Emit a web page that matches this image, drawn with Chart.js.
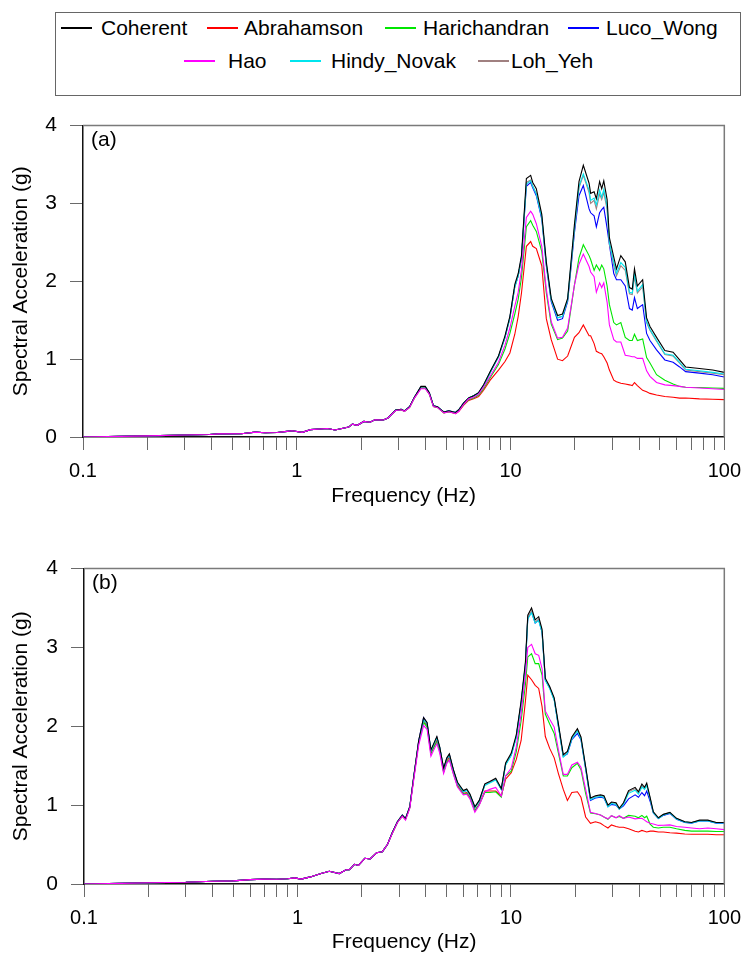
<!DOCTYPE html>
<html><head><meta charset="utf-8">
<script src="https://cdn.jsdelivr.net/npm/chart.js@4.4.1/dist/chart.umd.min.js"></script>
<style>
html,body{margin:0;padding:0;background:#fff;}
body{width:750px;height:953px;position:relative;overflow:hidden;font-family:"Liberation Sans",Arial,sans-serif;}
#legend{position:absolute;left:55px;top:12px;width:686px;height:84px;border:1px solid #666;box-sizing:border-box;}
.item{position:absolute;height:24px;}
.sw{position:absolute;left:0;top:11px;width:31px;height:2px;}
.tx{position:absolute;top:0;height:24px;line-height:24px;font-size:21px;color:#000;white-space:nowrap;}
canvas{position:absolute;left:0;}
</style>
</head>
<body>
<div id="legend"></div>
<canvas id="cA" width="750" height="410" style="top:100px"></canvas>
<canvas id="cB" width="750" height="410" style="top:543px"></canvas>
<script>
// ---------- data ----------
const seriesNames = ['Coherent','Abrahamson','Harichandran','Luco_Wong','Hao','Hindy_Novak','Loh_Yeh'];
const seriesColors = ['#000000','#ff0000','#00e600','#0000ff','#ff00ff','#00e5ee','#a08080'];

const xTickValues = [0.1,0.2,0.3,0.4,0.5,0.6,0.7,0.8,0.9,1,2,3,4,5,6,7,8,9,10,20,30,40,50,60,70,80,90,100];
const xMajorValues = [0.1,1,10,100];
const xTickLabels = ['0.1','1','10','100'];
const yTickValues = [0,1,2,3,4];

const freqA = [0.1,0.15,0.2,0.3,0.39,0.43,0.55,0.64,0.71,0.81,
0.9,0.95,1.06,1.16,1.39,1.51,1.75,1.82,1.92,2.06,
2.2,2.32,2.54,2.67,2.9,3.08,3.19,3.37,3.55,3.81,
3.99,4.17,4.36,4.55,4.88,5.15,5.53,5.73,6.04,6.37,
6.72,7.09,7.48,8.03,8.78,9.42,9.93,10.47,10.86,11.25,
11.86,12.42,12.7,13.2,14.0,14.7,15.5,16.6,17.5,18.5,
19.9,20.9,21.9,23.3,23.7,24.6,25.2,26.1,26.7,27.3,
28.3,29.0,30.4,31.3,32.8,34.4,36.0,37.1,38.0,39.2,
41.5,43.3,44.9,48.2,52.7,57.6,61.8,65.9,76.5,88.2,
100];

const coherentA = [0,0.008,0.015,0.025,0.033,0.04,0.042,0.062,0.055,0.058,
0.072,0.08,0.06,0.095,0.11,0.09,0.127,0.165,0.15,0.2,
0.19,0.22,0.218,0.245,0.345,0.355,0.335,0.39,0.51,0.65,
0.65,0.57,0.40,0.39,0.32,0.335,0.315,0.35,0.44,0.50,
0.53,0.57,0.67,0.84,1.04,1.30,1.55,1.96,2.10,2.33,
3.32,3.36,3.27,3.19,2.86,2.25,1.78,1.56,1.58,1.78,
2.73,3.28,3.49,3.26,3.13,3.15,3.06,3.28,3.19,3.29,
3.05,2.56,2.31,2.16,2.33,2.25,1.92,1.90,2.16,1.94,
2.02,1.53,1.42,1.28,1.11,1.09,0.99,0.90,0.88,0.86,
0.83];
const abrahamsonA = [0,0.008,0.015,0.025,0.033,0.04,0.042,0.062,0.055,0.058,
0.072,0.08,0.06,0.095,0.11,0.09,0.127,0.165,0.15,0.2,
0.19,0.22,0.218,0.245,0.34,0.35,0.33,0.38,0.50,0.63,
0.63,0.55,0.39,0.38,0.31,0.325,0.30,0.33,0.41,0.47,
0.49,0.52,0.60,0.73,0.86,0.97,1.08,1.32,1.55,1.85,
2.45,2.51,2.45,2.42,2.20,1.52,1.25,1.00,0.98,1.04,
1.28,1.34,1.44,1.30,1.30,1.20,1.10,1.08,1.07,1.03,
0.95,0.86,0.73,0.71,0.69,0.68,0.67,0.66,0.70,0.66,
0.60,0.58,0.56,0.54,0.52,0.51,0.50,0.50,0.49,0.485,
0.48];
const harichandranA = [0,0.008,0.015,0.025,0.033,0.04,0.042,0.062,0.055,0.058,
0.072,0.08,0.06,0.095,0.11,0.09,0.127,0.165,0.15,0.2,
0.19,0.22,0.218,0.245,0.34,0.35,0.33,0.38,0.50,0.63,
0.63,0.55,0.39,0.38,0.31,0.325,0.305,0.34,0.42,0.48,
0.50,0.54,0.62,0.76,0.93,1.13,1.33,1.58,1.77,2.05,
2.70,2.78,2.72,2.64,2.38,1.85,1.45,1.25,1.27,1.36,
1.95,2.30,2.47,2.33,2.28,2.14,2.21,2.14,2.21,2.16,
1.94,1.70,1.47,1.44,1.47,1.28,1.24,1.24,1.32,1.24,
1.26,1.02,0.95,0.80,0.73,0.68,0.65,0.64,0.635,0.63,
0.625];
const lucoWongA = [0,0.008,0.015,0.025,0.033,0.04,0.042,0.062,0.055,0.058,
0.072,0.08,0.06,0.095,0.11,0.09,0.127,0.165,0.15,0.2,
0.19,0.22,0.218,0.245,0.345,0.355,0.335,0.39,0.51,0.645,
0.645,0.565,0.40,0.39,0.32,0.335,0.315,0.35,0.44,0.50,
0.53,0.565,0.66,0.83,1.03,1.28,1.53,1.93,2.07,2.30,
3.22,3.27,3.20,3.10,2.80,2.20,1.74,1.50,1.52,1.74,
2.62,3.10,3.23,2.93,2.88,2.84,2.70,2.88,2.92,2.95,
2.68,2.47,2.10,2.02,2.02,1.94,1.65,1.63,1.79,1.65,
1.70,1.33,1.24,1.12,0.99,0.96,0.90,0.84,0.82,0.80,
0.77];
const haoA = [0,0.008,0.015,0.025,0.033,0.04,0.042,0.062,0.055,0.058,
0.072,0.08,0.06,0.095,0.11,0.09,0.127,0.165,0.15,0.2,
0.19,0.22,0.218,0.245,0.34,0.35,0.33,0.38,0.50,0.62,
0.62,0.55,0.39,0.38,0.31,0.325,0.30,0.33,0.42,0.49,
0.51,0.55,0.64,0.78,0.96,1.18,1.40,1.68,1.86,2.15,
2.82,2.90,2.86,2.74,2.45,1.90,1.48,1.27,1.28,1.40,
1.95,2.22,2.35,2.19,2.12,2.06,1.86,1.98,1.92,1.98,
1.73,1.44,1.25,1.22,1.22,1.05,1.04,1.03,1.03,1.01,
1.01,0.85,0.78,0.70,0.67,0.66,0.65,0.64,0.63,0.62,
0.61];
const hindyNovakA = [0,0.008,0.015,0.025,0.033,0.04,0.042,0.062,0.055,0.058,
0.072,0.08,0.06,0.095,0.11,0.09,0.127,0.165,0.15,0.2,
0.19,0.22,0.218,0.245,0.345,0.355,0.335,0.39,0.51,0.645,
0.645,0.565,0.40,0.39,0.32,0.335,0.315,0.35,0.44,0.50,
0.53,0.565,0.66,0.83,1.03,1.28,1.53,1.93,2.07,2.30,
3.25,3.29,3.22,3.12,2.82,2.22,1.76,1.53,1.55,1.76,
2.68,3.22,3.38,3.17,3.04,3.07,2.98,3.17,3.08,3.18,
2.96,2.50,2.24,2.10,2.24,2.18,1.86,1.85,2.10,1.87,
1.96,1.48,1.38,1.24,1.07,1.05,0.96,0.87,0.85,0.83,
0.81];
const lohYehA = [0,0.008,0.015,0.025,0.033,0.04,0.042,0.062,0.055,0.058,
0.072,0.08,0.06,0.095,0.11,0.09,0.127,0.165,0.15,0.2,
0.19,0.22,0.218,0.245,0.345,0.355,0.335,0.39,0.51,0.645,
0.645,0.565,0.40,0.39,0.32,0.335,0.315,0.35,0.44,0.50,
0.53,0.565,0.66,0.83,1.03,1.28,1.53,1.93,2.07,2.30,
3.27,3.30,3.22,3.13,2.83,2.22,1.76,1.53,1.55,1.76,
2.66,3.20,3.36,3.14,3.00,3.04,2.93,3.12,3.05,3.14,
2.92,2.48,2.20,2.07,2.20,2.14,1.84,1.83,2.06,1.85,
1.93,1.47,1.37,1.23,1.06,1.04,0.95,0.86,0.84,0.82,
0.80];

const freqB = [0.1,0.15,0.2,0.3,0.4,0.5,0.6,0.7,0.8,0.9,
0.97,1.04,1.15,1.29,1.41,1.57,1.69,1.75,1.85,1.93,
2.07,2.19,2.35,2.5,2.64,2.78,2.94,3.1,3.21,3.36,
3.51,3.7,3.9,4.05,4.22,4.35,4.5,4.64,4.84,5.01,
5.15,5.38,5.62,5.99,6.21,6.43,6.78,7.11,7.55,7.96,
8.49,9.02,9.45,10.04,10.6,11.17,11.7,12.0,12.5,13.0,
13.5,14.0,14.5,15.2,15.96,16.7,17.6,18.4,19.3,20.5,
21.3,22.4,23.6,24.9,26.3,27.3,28.5,29.6,31.1,32.2,
33.7,35.6,38.2,39.6,41.1,42.3,43.3,44.9,46.5,49.1,
51.8,55.6,59.7,65.3,70.2,76.6,83.7,91.6,100];

const coherentB = [0,0.008,0.015,0.022,0.035,0.04,0.055,0.062,0.06,0.066,
0.078,0.062,0.09,0.132,0.161,0.132,0.18,0.18,0.25,0.235,
0.326,0.318,0.396,0.41,0.50,0.65,0.79,0.875,0.83,0.98,
1.37,1.82,2.11,2.05,1.70,1.78,1.87,1.74,1.47,1.60,
1.65,1.45,1.29,1.185,1.205,1.14,0.98,1.06,1.27,1.30,
1.34,1.21,1.535,1.66,1.89,2.32,2.815,3.41,3.50,3.35,
3.39,3.23,2.61,2.505,2.36,2.03,1.64,1.68,1.865,1.97,
1.865,1.49,1.09,1.12,1.13,1.12,1.00,1.04,1.03,0.96,
1.03,1.185,1.226,1.17,1.267,1.226,1.28,1.10,0.916,0.84,
0.883,0.908,0.833,0.79,0.78,0.81,0.81,0.78,0.78];
const abrahamsonB = [0,0.008,0.015,0.022,0.035,0.04,0.055,0.062,0.06,0.066,
0.078,0.062,0.09,0.132,0.161,0.132,0.18,0.18,0.25,0.235,
0.326,0.318,0.396,0.41,0.50,0.64,0.78,0.86,0.82,0.97,
1.35,1.80,2.07,2.01,1.66,1.74,1.82,1.70,1.42,1.56,
1.61,1.41,1.25,1.15,1.16,1.10,0.93,1.01,1.18,1.18,
1.18,1.12,1.33,1.41,1.58,1.82,2.32,2.65,2.59,2.52,
2.48,2.25,1.87,1.72,1.60,1.40,1.20,1.06,1.16,1.17,
1.10,0.85,0.77,0.79,0.77,0.74,0.71,0.75,0.73,0.72,
0.72,0.70,0.67,0.66,0.68,0.67,0.66,0.67,0.67,0.66,
0.66,0.65,0.645,0.635,0.63,0.63,0.63,0.625,0.625];
const harichandranB = [0,0.008,0.015,0.022,0.035,0.04,0.055,0.062,0.06,0.066,
0.078,0.062,0.09,0.132,0.161,0.132,0.18,0.18,0.25,0.235,
0.326,0.318,0.396,0.41,0.50,0.64,0.78,0.86,0.82,0.97,
1.36,1.80,2.05,1.99,1.65,1.73,1.80,1.69,1.42,1.54,
1.58,1.40,1.24,1.14,1.15,1.09,0.93,1.01,1.16,1.16,
1.17,1.10,1.37,1.43,1.68,2.07,2.53,2.88,2.92,2.795,
2.795,2.65,2.155,2.03,1.91,1.66,1.37,1.37,1.475,1.53,
1.45,1.15,0.90,0.89,0.874,0.85,0.82,0.867,0.84,0.855,
0.833,0.87,0.86,0.84,0.87,0.84,0.86,0.76,0.72,0.71,
0.72,0.72,0.70,0.68,0.67,0.67,0.67,0.665,0.665];
const lucoWongB = [0,0.008,0.015,0.022,0.035,0.04,0.055,0.062,0.06,0.066,
0.078,0.062,0.09,0.132,0.161,0.132,0.18,0.18,0.25,0.235,
0.326,0.318,0.396,0.41,0.50,0.65,0.79,0.875,0.83,0.98,
1.37,1.82,2.11,2.04,1.69,1.77,1.86,1.73,1.46,1.59,
1.64,1.44,1.28,1.17,1.19,1.13,0.97,1.05,1.26,1.29,
1.33,1.20,1.52,1.64,1.87,2.29,2.78,3.37,3.45,3.31,
3.35,3.19,2.59,2.49,2.34,2.00,1.62,1.65,1.83,1.91,
1.83,1.46,1.06,1.09,1.10,1.09,0.98,1.01,1.00,0.95,
0.99,1.08,1.13,1.10,1.16,1.12,1.18,1.05,0.90,0.83,
0.87,0.895,0.82,0.78,0.77,0.80,0.80,0.77,0.77];
const haoB = [0,0.008,0.015,0.022,0.035,0.04,0.055,0.062,0.06,0.066,
0.078,0.062,0.09,0.132,0.161,0.132,0.18,0.18,0.25,0.235,
0.326,0.318,0.396,0.41,0.50,0.64,0.78,0.86,0.81,0.96,
1.33,1.76,2.01,1.96,1.62,1.70,1.78,1.66,1.40,1.53,
1.57,1.39,1.23,1.13,1.14,1.08,0.91,1.00,1.17,1.20,
1.225,1.115,1.37,1.47,1.74,2.16,2.65,3.00,3.04,2.92,
2.90,2.73,2.195,2.09,1.99,1.70,1.39,1.39,1.51,1.545,
1.48,1.20,0.91,0.895,0.874,0.85,0.826,0.867,0.84,0.867,
0.833,0.85,0.826,0.83,0.833,0.81,0.79,0.77,0.76,0.743,
0.745,0.75,0.73,0.72,0.71,0.70,0.71,0.70,0.69];
const hindyNovakB = [0,0.008,0.015,0.022,0.035,0.04,0.055,0.062,0.06,0.066,
0.078,0.062,0.09,0.132,0.161,0.132,0.18,0.18,0.25,0.235,
0.326,0.318,0.396,0.41,0.50,0.65,0.79,0.875,0.83,0.98,
1.36,1.80,2.08,2.03,1.69,1.77,1.85,1.73,1.46,1.59,
1.63,1.44,1.28,1.17,1.19,1.13,0.97,1.05,1.25,1.28,
1.32,1.20,1.51,1.63,1.86,2.28,2.77,3.36,3.44,3.31,
3.34,3.19,2.58,2.48,2.33,2.00,1.61,1.66,1.84,1.94,
1.84,1.47,1.07,1.10,1.11,1.10,0.98,1.02,1.01,0.95,
1.01,1.15,1.19,1.14,1.23,1.20,1.25,1.08,0.905,0.83,
0.875,0.90,0.825,0.785,0.775,0.80,0.80,0.775,0.775];
const lohYehB = [0,0.008,0.015,0.022,0.035,0.04,0.055,0.062,0.06,0.066,
0.078,0.062,0.09,0.132,0.161,0.132,0.18,0.18,0.25,0.235,
0.326,0.318,0.396,0.41,0.50,0.65,0.79,0.875,0.83,0.98,
1.36,1.81,2.09,2.03,1.69,1.77,1.86,1.73,1.46,1.59,
1.64,1.44,1.28,1.18,1.20,1.13,0.97,1.05,1.26,1.29,
1.33,1.20,1.52,1.64,1.87,2.30,2.79,3.38,3.46,3.32,
3.36,3.20,2.59,2.49,2.34,2.01,1.62,1.67,1.85,1.95,
1.85,1.48,1.08,1.11,1.12,1.11,0.99,1.03,1.02,0.95,
1.02,1.17,1.21,1.15,1.24,1.21,1.26,1.09,0.91,0.835,
0.88,0.905,0.83,0.79,0.78,0.805,0.805,0.78,0.78];

// ---------- layout (not data) ----------
const FONT = "'Liberation Sans', Arial, sans-serif";
// lower = drawn later (on top)
const drawOrder = [1,6,5,4,0,2,3];
// legend: [line left, text left, row centre] in page px
const legendLayout = [[60.7,101,28],[207,244,28],[385,423,28],[568,606,28],[183.5,228,61],[290,331,61],[478,511,61]];

// ---------- legend (HTML) ----------
(function(){
  const box = document.getElementById('legend');
  seriesNames.forEach((name,i)=>{
    const [lx, tx, cy] = legendLayout[i];
    const it = document.createElement('div');
    it.className = 'item';
    it.style.left = (lx - 56) + 'px';
    it.style.top = (cy - 13 - 12) + 'px';
    const sw = document.createElement('div');
    sw.className = 'sw';
    sw.style.backgroundColor = seriesColors[i];
    const t = document.createElement('div');
    t.className = 'tx';
    t.style.left = (tx - lx) + 'px';
    t.textContent = name;
    it.appendChild(sw); it.appendChild(t);
    box.appendChild(it);
  });
})();

// ---------- charts ----------
function makeChart(id, freq, seriesVals, tag, dims){
  const H = 410;
  const framePlugin = {
    id: 'frame' + id,
    afterDraw(chart){
      const {ctx, chartArea:a} = chart;
      ctx.save();
      ctx.strokeStyle = '#7a7a7a';
      ctx.lineWidth = 1.5;
      ctx.beginPath();
      ctx.moveTo(a.left, a.top);
      ctx.lineTo(a.right, a.top);
      ctx.lineTo(a.right, a.bottom);
      ctx.stroke();
      ctx.fillStyle = '#000';
      ctx.font = '21px ' + FONT;
      ctx.textBaseline = 'middle';
      ctx.textAlign = 'left';
      ctx.fillText(tag, a.left + 8, a.top + 15);
      ctx.restore();
    }
  };
  return new Chart(document.getElementById(id), {
    type: 'line',
    data: {
      datasets: seriesNames.map((n,i)=>({
        label: n,
        data: freq.map((f,j)=>({x:f, y:seriesVals[i][j]})),
        borderColor: seriesColors[i],
        backgroundColor: seriesColors[i],
        borderWidth: 1.1,
        pointRadius: 0,
        fill: false,
        tension: 0,
        order: drawOrder[i]
      }))
    },
    options: {
      responsive: false,
      animation: false,
      devicePixelRatio: 1,
      layout: {padding: {left: 0, right: 750 - dims.right, top: dims.top, bottom: 0}},
      plugins: {legend: {display: false}, tooltip: {enabled: false}},
      scales: {
        x: {
          type: 'logarithmic', min: 0.1, max: 100,
          afterBuildTicks: s => { s.ticks = xTickValues.map(v => ({value: v})); },
          afterFit: s => { s.height = H - dims.bottom; },
          ticks: {
            autoSkip: false, maxRotation: 0, minRotation: 0, padding: 9, color: '#000',
            font: {family: FONT, size: 20, lineHeight: 1.2},
            callback: v => { const k = xMajorValues.findIndex(m => Math.abs(m - v) < 1e-9); return k >= 0 ? xTickLabels[k] : ''; }
          },
          grid: {drawOnChartArea: false, drawTicks: true, tickLength: 13, color: '#6a6a6a', lineWidth: 1},
          border: {display: true, color: '#111', width: 1.5},
          title: {display: true, text: 'Frequency (Hz)', color: '#000',
                  font: {family: FONT, size: 21, lineHeight: 1}, padding: {top: 0, bottom: dims.titlePad}}
        },
        y: {
          type: 'linear', min: 0, max: 4,
          afterBuildTicks: s => { s.ticks = yTickValues.map(v => ({value: v})); },
          afterFit: s => { s.width = dims.left; },
          ticks: {padding: 13, color: '#000', font: {family: FONT, size: 21}},
          grid: {drawOnChartArea: false, drawTicks: true, tickLength: 13, color: '#6a6a6a', lineWidth: 1},
          border: {display: true, color: '#111', width: 1.5},
          title: {display: true, text: 'Spectral Acceleration (g)', color: '#000',
                  font: {family: FONT, size: 21, lineHeight: 1}, padding: {top: 11, bottom: 0}}
        }
      }
    },
    plugins: [framePlugin]
  });
}

makeChart('cA', freqA,
  [coherentA, abrahamsonA, harichandranA, lucoWongA, haoA, hindyNovakA, lohYehA],
  '(a)', {left: 83, right: 732, top: 12.5, bottom: 337, titlePad: 3.5});
makeChart('cB', freqB,
  [coherentB, abrahamsonB, harichandranB, lucoWongB, haoB, hindyNovakB, lohYehB],
  '(b)', {left: 84, right: 730, top: 18, bottom: 341, titlePad: 0});
</script>
</body></html>
